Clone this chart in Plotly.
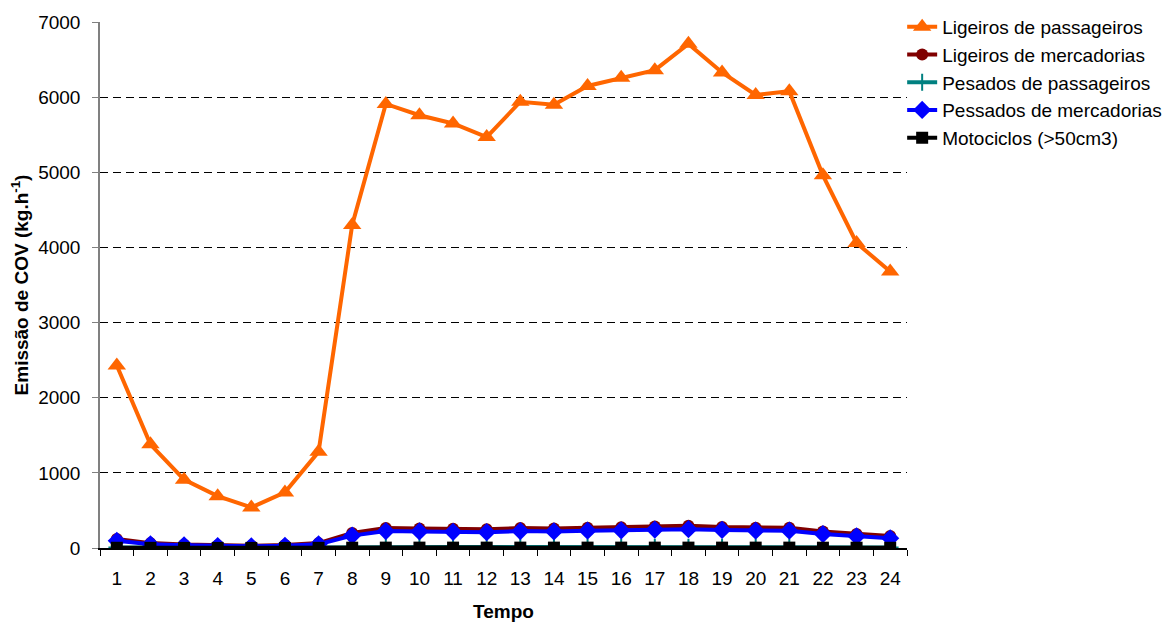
import plotly.graph_objects as go

hours = [str(h) for h in range(1, 25)]

ligeiros_passageiros = [2430, 1380, 910, 690, 540, 740, 1280, 4300, 5910, 5760, 5650, 5470,
                        5940, 5900, 6150, 6260, 6360, 6710, 6330, 6030, 6080, 4960, 4060, 3680]
ligeiros_mercadorias = [120, 65, 45, 35, 30, 40, 65, 200, 265, 260, 255, 250,
                        265, 260, 270, 275, 285, 295, 280, 270, 270, 220, 185, 160]
pesados_passageiros = [8, 5, 4, 3, 3, 4, 6, 10, 12, 12, 12, 12,
                       12, 12, 12, 12, 12, 12, 12, 12, 12, 10, 9, 8]
pesados_mercadorias = [95, 50, 35, 25, 22, 30, 50, 165, 225, 220, 215, 210,
                       225, 220, 230, 235, 245, 250, 240, 230, 230, 185, 155, 130]
motociclos = [3, 2, 1, 1, 1, 1, 2, 4, 5, 5, 5, 5,
              5, 5, 5, 5, 5, 5, 5, 5, 5, 4, 4, 3]

FONT = "Liberation Sans, Arial, sans-serif"

series = [
    ("Ligeiros de passageiros", ligeiros_passageiros, "#FF6600", "triangle-up", 16),
    ("Ligeiros de mercadorias", ligeiros_mercadorias, "#800000", "circle", 12),
    ("Pesados de passageiros", pesados_passageiros, "#008080", "cross-thin", 12),
    ("Pessados de mercadorias", pesados_mercadorias, "#0000FF", "diamond", 14),
    ("Motociclos (>50cm3)", motociclos, "#000000", "square", 12),
]

fig = go.Figure()
for name, vals, color, sym, size in series:
    marker = dict(symbol=sym, size=size, color=color)
    if sym == "cross-thin":
        marker["line"] = dict(color=color, width=2)
    fig.add_trace(go.Scatter(
        x=hours, y=vals, name=name, mode="lines+markers",
        line=dict(color=color, width=4), marker=marker,
    ))

# page body adds an 8px offset, so the figure is laid out 8px up/left
W, H = 1167, 615
L, R, T, B = 92, 268, 0, 75
plot_h = H - T - B
top_frac = 1 - 14 / plot_h

fig.update_layout(
    width=W, height=H,
    margin=dict(l=L, r=R, t=T, b=B, autoexpand=False),
    paper_bgcolor="white", plot_bgcolor="white",
    font=dict(family=FONT, size=19, color="black"),
    showlegend=True,
    legend=dict(x=0.994, xanchor="left", y=1.0, yanchor="top",
                font=dict(size=19), tracegroupgap=0, itemwidth=30,
                bgcolor="rgba(0,0,0,0)"),
    annotations=[dict(
        text="<b>Tempo</b>", xref="paper", yref="paper", x=0.5, y=-63 / plot_h,
        xanchor="center", yanchor="middle", showarrow=False, font=dict(size=19),
    )],
)

fig.update_xaxes(
    type="category", range=[-0.5, 23.5], automargin=False,
    tickson="boundaries", ticks="outside", ticklen=6, tickcolor="black",
    showline=True, linecolor="black", linewidth=1.5,
    showgrid=False, ticklabelstandoff=12,
)
fig.update_yaxes(
    range=[0, 7001], dtick=1000, ticks="outside", ticklen=6, tickcolor="#808080",
    domain=[0, top_frac], automargin=False,
    showline=True, linecolor="#808080", linewidth=1.5,
    showgrid=True, gridcolor="black", gridwidth=1, griddash="8px,5px",
    zeroline=False, ticklabelstandoff=8,
    title=dict(text="<b>Emissão de COV (kg.h<sup>-1</sup>)</b>", font=dict(size=19), standoff=12),
)

fig.write_html("out.html")
